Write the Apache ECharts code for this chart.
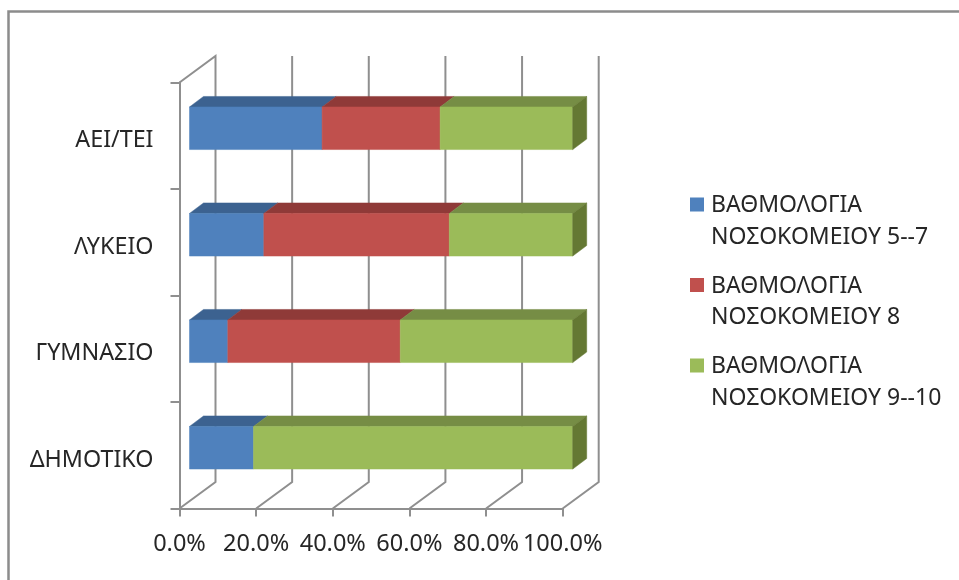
<!DOCTYPE html>
<html>
<head>
<meta charset="utf-8">
<style>html,body{margin:0;padding:0;background:#fff}#chart{width:959px;height:580px}</style>
<script src="https://cdn.jsdelivr.net/npm/echarts@6/dist/echarts.min.js"></script>
</head>
<body>
<div id="chart"></div>
<script>
// Education levels, bottom to top, and each level's share of hospital scores (%).
const categories = ['ΔΗΜΟΤΙΚΟ', 'ΓΥΜΝΑΣΙΟ', 'ΛΥΚΕΙΟ', 'ΑΕΙ/ΤΕΙ'];
const score5to7 = [16.7, 10.0, 19.4, 34.6];
const score8 = [0, 45.0, 48.4, 30.8];
const score9to10 = [83.3, 45.0, 32.2, 34.6];
const seriesNames = ['ΒΑΘΜΟΛΟΓΙΑ\nΝΟΣΟΚΟΜΕΙΟΥ 5--7', 'ΒΑΘΜΟΛΟΓΙΑ\nΝΟΣΟΚΟΜΕΙΟΥ 8', 'ΒΑΘΜΟΛΟΓΙΑ\nΝΟΣΟΚΟΜΕΙΟΥ 9--10'];
const percentTicks = [0, 20, 40, 60, 80, 100];

// Face colours per series: front, top, side.
const shades = [
  ['#4f81bd', '#3c6290', '#31507a'],
  ['#c0504d', '#8f3a38', '#7a302e'],
  ['#9bbb59', '#768d45', '#647833']
];

const FONT = '"Noto Sans", sans-serif';
const GRID_COLOR = '#8f8f8f';
const WALL = { dx: 36, dy: 26.5 };     // depth of the chart box
const BAR = { dx: 14, dy: 10.5, shiftX: 10, shiftY: -7.5, thickness: 0.4 }; // box of each bar

function poly(points, fill) {
  return { type: 'polygon', shape: { points }, style: { fill, stroke: fill, lineWidth: 0.5 } };
}

// Back-wall and floor lines for one percent tick.
function renderWall(params, api) {
  const value = api.value(0);
  const band = api.size([0, 1])[1];
  const topCoord = api.coord([value, categories.length - 1]);
  const bottomCoord = api.coord([value, 0]);
  const top = [topCoord[0], topCoord[1] - band / 2];
  const bottom = [bottomCoord[0], bottomCoord[1] + band / 2];
  const backTop = [top[0] + WALL.dx, top[1] - WALL.dy];
  const backBottom = [bottom[0] + WALL.dx, bottom[1] - WALL.dy];
  const lineStyle = { stroke: GRID_COLOR, lineWidth: 2, fill: null };
  const points = value === 0 ? [top, backTop, backBottom, bottom] : [backTop, backBottom, bottom];
  return { type: 'polyline', shape: { points }, style: lineStyle };
}

// One stacked segment of a bar: front, top and, at the bar's end, the side face.
function renderSegment(colors) {
  return function (params, api) {
    const cat = api.value(0), start = api.value(1), end = api.value(2);
    if (end <= start) return null;
    const h = api.size([0, 1])[1] * BAR.thickness;
    const a = api.coord([start, cat]), b = api.coord([end, cat]);
    const x0 = a[0] + BAR.shiftX, x1 = b[0] + BAR.shiftX;
    const y0 = a[1] + BAR.shiftY - h / 2, y1 = y0 + h;
    const children = [
      poly([[x0, y0], [x0 + BAR.dx, y0 - BAR.dy], [x1 + BAR.dx, y0 - BAR.dy], [x1, y0]], colors[1]),
      poly([[x0, y0], [x1, y0], [x1, y1], [x0, y1]], colors[0])
    ];
    if (end >= 99.95) {
      children.push(poly([[x1, y0], [x1 + BAR.dx, y0 - BAR.dy], [x1 + BAR.dx, y1 - BAR.dy], [x1, y1]], colors[2]));
    }
    return { type: 'group', children };
  };
}

// Turn the shares into [category, start, end] stacks.
const stacks = [score5to7, score8, score9to10];
const running = categories.map(() => 0);
const segmentSeries = stacks.map((values, s) => {
  const data = values.map((v, i) => {
    const row = [i, running[i], running[i] + v];
    running[i] += v;
    return row;
  });
  return {
    type: 'custom',
    name: seriesNames[s],
    coordinateSystem: 'cartesian2d',
    renderItem: renderSegment(shades[s]),
    itemStyle: { color: shades[s][0] },
    encode: { x: [1, 2], y: 0 },
    data,
    z: 5 + s,
    silent: true
  };
});

const chart = echarts.init(document.getElementById('chart'), null, { renderer: 'canvas' });
chart.setOption({
  animation: false,
  backgroundColor: '#fff',
  grid: { left: 179.5, top: 82.5, width: 383.2, height: 426 },
  xAxis: {
    type: 'value', min: 0, max: 100, interval: 20,
    splitLine: { show: false },
    axisLine: { show: true, lineStyle: { color: GRID_COLOR, width: 2 } },
    axisTick: { show: true, length: 8, lineStyle: { color: GRID_COLOR, width: 2 } },
    axisLabel: {
      margin: 24, color: '#262626', fontFamily: FONT, fontSize: 23.5,
      showMinLabel: true, showMaxLabel: true, hideOverlap: false,
      formatter: v => v.toFixed(1) + '%'
    }
  },
  yAxis: {
    type: 'category', data: categories,
    axisLine: { show: true, lineStyle: { color: GRID_COLOR, width: 2 } },
    axisTick: { show: true, length: 9, lineStyle: { color: GRID_COLOR, width: 2 } },
    axisLabel: {
      margin: 26, color: '#262626', fontFamily: FONT, fontSize: 23.3,
      verticalAlign: 'top', lineHeight: 10
    }
  },
  legend: {
    orient: 'vertical', left: 690, top: 190, padding: 0, itemWidth: 14, itemHeight: 48, itemGap: 17.5,
    selectedMode: false,
    // Square sits at the top of a taller box so it lines up with the first text line.
    icon: 'path://M0 0H14V14H0Z M0 48H0.01',
    data: seriesNames,
    textStyle: { color: '#262626', fontFamily: FONT, fontSize: 23, lineHeight: 31.5, padding: [0, 0, 0, 2] }
  },
  graphic: [{
    type: 'polyline', silent: true,
    shape: { points: [[8.5, 580], [8.5, 11.5], [959, 11.5]] },
    style: { stroke: '#8c8c8c', lineWidth: 2.5, fill: null }
  }],
  series: [{
    type: 'custom',
    name: 'walls',
    coordinateSystem: 'cartesian2d',
    renderItem: renderWall,
    encode: { x: 0 },
    data: percentTicks.map(t => [t]),
    z: 1,
    silent: true
  }].concat(segmentSeries)
});
</script>
</body>
</html>
